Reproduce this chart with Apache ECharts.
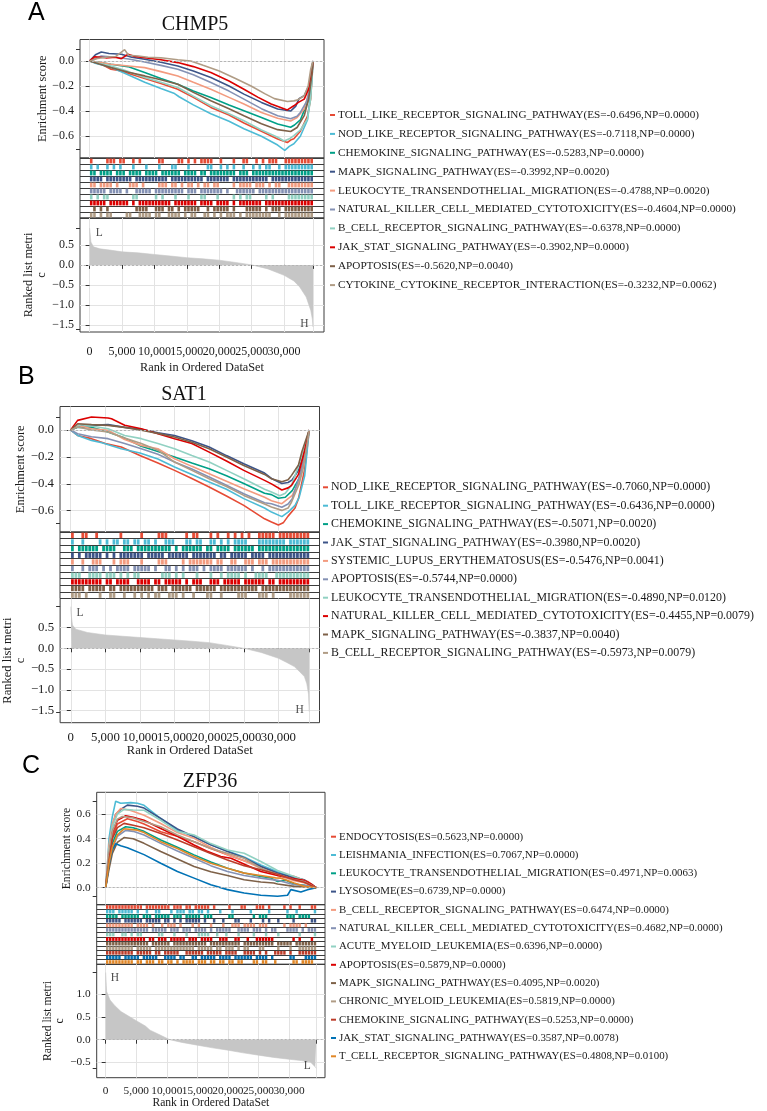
<!DOCTYPE html>
<html><head><meta charset="utf-8">
<script src="https://cdn.jsdelivr.net/npm/echarts@6/dist/echarts.min.js"></script>
<style>html,body{margin:0;padding:0;background:#fff}#c{width:767px;height:1111px}</style>
</head><body><div id="c"></div>
<script>
// ---------------- DATA ----------------
const N_GENES = 34450;        // length of ranked list
const BIN = 500;              // each character of a hit string covers 500 ranks
const xTicks = [0,5000,10000,15000,20000,25000,30000];

const colorsNPG = ['#E64B35','#4DBBD5','#00A087','#3C5488','#F39B7F','#8491B4','#91D1C2','#DC0000','#7E6148','#B09C85'];
const colorsExtra = ['#BC3C29','#0072B5','#E18727'];

// ----- Panel A : CHMP5 -----
const geneA = 'CHMP5';
const namesA = ['TOLL_LIKE_RECEPTOR_SIGNALING_PATHWAY','NOD_LIKE_RECEPTOR_SIGNALING_PATHWAY','CHEMOKINE_SIGNALING_PATHWAY','MAPK_SIGNALING_PATHWAY','LEUKOCYTE_TRANSENDOTHELIAL_MIGRATION','NATURAL_KILLER_CELL_MEDIATED_CYTOTOXICITY','B_CELL_RECEPTOR_SIGNALING_PATHWAY','JAK_STAT_SIGNALING_PATHWAY','APOPTOSIS','CYTOKINE_CYTOKINE_RECEPTOR_INTERACTION'];
const esA = [-0.6496,-0.7118,-0.5283,-0.3992,-0.4788,-0.4604,-0.6378,-0.3902,-0.5620,-0.3232];
const npA = [0,0,0,0.002,0.002,0,0,0,0.004,0.0062];
const curvesA = [
 [[0,0],[800,-0.013],[2000,-0.03],[3300,-0.066],[4500,-0.075],[5900,-0.098],[8500,-0.14],[11000,-0.18],[13600,-0.225],[16000,-0.29],[18700,-0.37],[21500,-0.43],[23800,-0.494],[26500,-0.56],[29000,-0.621],[30500,-0.6496],[31000,-0.63],[31500,-0.62],[32500,-0.56],[33600,-0.44],[34100,-0.3],[34450,0]],
 [[0,0],[1000,-0.02],[3300,-0.05],[5500,-0.1],[8500,-0.17],[11000,-0.22],[13100,-0.26],[13800,-0.285],[16000,-0.35],[18700,-0.42],[21500,-0.48],[23800,-0.54],[26500,-0.6],[29000,-0.67],[30100,-0.7118],[30800,-0.68],[31500,-0.66],[32500,-0.6],[33600,-0.47],[34000,-0.3],[34300,-0.15],[34450,0]],
 [[0,0],[1500,-0.01],[3300,-0.026],[5900,-0.045],[8500,-0.092],[11000,-0.14],[13600,-0.185],[16000,-0.24],[18700,-0.291],[21500,-0.35],[23800,-0.396],[26500,-0.45],[29000,-0.502],[31000,-0.5283],[31600,-0.51],[32500,-0.47],[33600,-0.33],[34200,-0.12],[34450,0]],
 [[0,0],[900,0.05],[1800,0.071],[3000,0.06],[4900,0.053],[6500,0.03],[8500,0.013],[11000,-0.01],[13600,-0.04],[16000,-0.08],[18700,-0.132],[21500,-0.2],[23800,-0.264],[26500,-0.33],[29000,-0.383],[31000,-0.3992],[31800,-0.36],[32300,-0.3],[33100,-0.277],[33800,-0.2],[34450,0]],
 [[0,0],[1500,-0.01],[3300,-0.026],[6000,-0.04],[8500,-0.053],[11000,-0.085],[13600,-0.119],[16000,-0.17],[18700,-0.225],[21500,-0.29],[23800,-0.343],[26500,-0.41],[29000,-0.457],[31000,-0.4788],[32000,-0.45],[33100,-0.383],[33800,-0.25],[34300,-0.066],[34450,0]],
 [[0,0],[1800,0.04],[4000,0.03],[6000,0.015],[8500,-0.008],[11000,-0.035],[13600,-0.066],[16000,-0.11],[18700,-0.172],[21500,-0.24],[23800,-0.304],[26500,-0.38],[29000,-0.436],[31000,-0.4604],[32000,-0.44],[32500,-0.41],[33500,-0.32],[34100,-0.198],[34450,0]],
 [[0,0],[1500,-0.02],[3300,-0.04],[6000,-0.085],[8500,-0.132],[11000,-0.17],[13600,-0.211],[16000,-0.28],[18700,-0.357],[21500,-0.42],[23800,-0.476],[26500,-0.55],[29000,-0.608],[30000,-0.6378],[30800,-0.62],[31500,-0.594],[32500,-0.55],[33600,-0.462],[34100,-0.3],[34450,0]],
 [[0,0],[800,0.034],[2500,0.025],[4000,0.03],[4900,0.018],[5900,0.053],[7000,0.035],[8500,0.026],[11000,0.01],[13600,-0.013],[16000,-0.045],[18700,-0.092],[21500,-0.16],[23800,-0.225],[26000,-0.29],[28000,-0.343],[30500,-0.3902],[31500,-0.357],[32200,-0.33],[33100,-0.304],[33800,-0.22],[34300,-0.092],[34450,0]],
 [[0,0],[1500,-0.025],[3300,-0.053],[6000,-0.09],[8500,-0.119],[11000,-0.15],[13600,-0.185],[16000,-0.25],[18700,-0.317],[21500,-0.38],[23800,-0.436],[26500,-0.5],[29000,-0.547],[31000,-0.562],[32000,-0.53],[33100,-0.436],[33800,-0.3],[34300,-0.1],[34450,0]],
 [[0,0],[1200,0.02],[2500,0.03],[4000,0.035],[5400,0.09],[6000,0.045],[7500,0.04],[9000,0.03],[11000,0.025],[13600,0.01],[15600,0],[17500,-0.035],[20000,-0.08],[22500,-0.14],[24900,-0.2],[27000,-0.26],[28500,-0.3],[30500,-0.3232],[31500,-0.318],[32000,-0.312],[33100,-0.277],[33700,-0.2],[34100,-0.066],[34450,0]]
];
const hitsA = [
 '#....###.# #..#.#.... .##....##. #.#.####.. #...#..##. .#.#.###.. #########',
 '#.#..#.#.# ...#...#.. .#...##... #.....##.. #.#.#..#.. #.#.##..#. #########',
 '##.####.## #.####.### #.######.# ###.##.### #####.###. ########## #########',
 '####.##### ###.###### ####.##### #####.#### ###.###### #####.#### #########',
 '##.####.#. ..###.#... .###.##.#. ##.#.##.## ....#.#### .###.#.##. .########',
 '#####.#### .#..#####. #########. ###.###### #.#..##### #.######## #########',
 '#.#.##.... ...##..... #.#...#... #...##...# ....#.#.## ....#.#... .########',
 '#####.#### ##.#.##### #####.#### ###.####.# ###.#.#### ###.###### #########',
 '.#.#.#.... ....####.. ###.##.#.# ####..#.## ###.#...## ###.#.###. #########',
 '##.#.##... .##..####. ##..####.# .##..##.#. #.###.#.## ######..#. #########'
];
const rankedA = [[0,0.92],[100,0.75],[200,0.57],[600,0.45],[1600,0.40],[3100,0.37],[5000,0.325],[7500,0.30],[10000,0.26],[12500,0.22],[15000,0.18],[17500,0.15],[20000,0.117],[22500,0.06],[25000,0],[27500,-0.1],[30000,-0.26],[31500,-0.4],[32400,-0.55],[33400,-0.8],[34100,-1.13],[34350,-1.35],[34450,-1.55]];
const esTicksA = [0,-0.2,-0.4,-0.6];
const esEndsA = [0.096,-0.704];
const rkTicksA = [0.5,0,-0.5,-1,-1.5];
const rkEndsA = [0.92,-1.61];
const markTextA = ['L','H'];
const markRankA = [1480,33130];
const markValA = [0.785,-1.465];

// ----- Panel B : SAT1 -----
const geneB = 'SAT1';
const namesB = ['NOD_LIKE_RECEPTOR_SIGNALING_PATHWAY','TOLL_LIKE_RECEPTOR_SIGNALING_PATHWAY','CHEMOKINE_SIGNALING_PATHWAY','JAK_STAT_SIGNALING_PATHWAY','SYSTEMIC_LUPUS_ERYTHEMATOSUS','APOPTOSIS','LEUKOCYTE_TRANSENDOTHELIAL_MIGRATION','NATURAL_KILLER_CELL_MEDIATED_CYTOTOXICITY','MAPK_SIGNALING_PATHWAY','B_CELL_RECEPTOR_SIGNALING_PATHWAY'];
const esB = [-0.7060,-0.6436,-0.5071,-0.3980,-0.5476,-0.5744,-0.4890,-0.4455,-0.3837,-0.5973];
const npB = [0,0,0.002,0.002,0.0041,0,0.012,0.0079,0.004,0.0079];
const curvesB = [
 [[0,0],[1000,-0.04],[3000,-0.064],[5000,-0.1],[7300,-0.126],[10000,-0.19],[12600,-0.245],[15000,-0.3],[17500,-0.36],[20000,-0.424],[22500,-0.49],[25000,-0.56],[28000,-0.66],[29000,-0.684],[30000,-0.706],[30700,-0.69],[31400,-0.64],[32400,-0.58],[32900,-0.51],[33800,-0.29],[34450,0]],
 [[0,0],[1000,-0.04],[3000,-0.077],[4500,-0.095],[7300,-0.139],[10000,-0.17],[12600,-0.215],[15000,-0.275],[17500,-0.33],[20000,-0.387],[22500,-0.44],[25000,-0.51],[28000,-0.58],[29000,-0.61],[30500,-0.6436],[31400,-0.61],[32400,-0.56],[33000,-0.5],[33800,-0.34],[34450,0]],
 [[0,0],[1000,0.02],[3000,0.02],[5400,-0.015],[7800,-0.06],[10200,-0.12],[12600,-0.16],[15000,-0.2],[17500,-0.245],[20000,-0.287],[22500,-0.34],[25000,-0.398],[28000,-0.47],[29000,-0.48],[30000,-0.5071],[31000,-0.5],[32000,-0.45],[33000,-0.36],[33800,-0.2],[34450,0]],
 [[0,0],[1500,0.035],[3000,0.035],[5400,0.04],[7800,0.02],[10200,0.005],[12600,-0.02],[15000,-0.04],[17500,-0.08],[20000,-0.126],[22500,-0.19],[25000,-0.25],[28000,-0.32],[29000,-0.36],[30500,-0.398],[31400,-0.39],[32000,-0.37],[32900,-0.3],[33800,-0.15],[34450,0]],
 [[0,0],[1000,0.035],[3000,0.01],[5400,-0.002],[7800,-0.07],[10200,-0.114],[12600,-0.139],[15000,-0.213],[17500,-0.27],[20000,-0.325],[22500,-0.38],[25000,-0.436],[28000,-0.5],[29000,-0.525],[30500,-0.5476],[31400,-0.51],[32000,-0.486],[33000,-0.38],[33800,-0.2],[34450,0]],
 [[0,0],[1000,-0.027],[3000,-0.05],[5400,-0.064],[7800,-0.1],[10200,-0.139],[12600,-0.18],[15000,-0.238],[17500,-0.29],[20000,-0.349],[22500,-0.41],[25000,-0.473],[28000,-0.54],[29000,-0.548],[30500,-0.5744],[31400,-0.55],[32000,-0.51],[33300,-0.3],[34000,-0.15],[34450,0]],
 [[0,0],[1500,0.04],[3000,0.03],[5400,0.01],[7800,-0.04],[10200,-0.064],[12600,-0.1],[15000,-0.139],[17500,-0.19],[20000,-0.238],[22500,-0.3],[25000,-0.362],[28000,-0.44],[29000,-0.461],[30200,-0.489],[31000,-0.47],[31900,-0.41],[33300,-0.21],[34450,0]],
 [[0,0],[1000,0.072],[3000,0.097],[5400,0.09],[5900,0.084],[7800,0.035],[10200,0.01],[12600,-0.027],[15000,-0.064],[17500,-0.1],[20000,-0.164],[22500,-0.23],[25000,-0.3],[28000,-0.374],[29000,-0.4],[30500,-0.4455],[31400,-0.43],[31900,-0.411],[32900,-0.33],[33800,-0.15],[34450,0]],
 [[0,0],[1000,0.047],[3000,0.04],[5400,0.035],[7800,0.02],[10200,-0.002],[12600,-0.025],[15000,-0.052],[17500,-0.09],[20000,-0.139],[22500,-0.2],[25000,-0.263],[28000,-0.33],[29000,-0.362],[30500,-0.3837],[31400,-0.37],[31900,-0.337],[32900,-0.26],[33400,-0.16],[34450,0]],
 [[0,0],[1000,0.022],[3000,0],[5400,-0.015],[7800,-0.06],[10200,-0.1],[12600,-0.15],[15000,-0.238],[17500,-0.3],[20000,-0.362],[22500,-0.42],[25000,-0.486],[28000,-0.55],[29000,-0.572],[30500,-0.5973],[31400,-0.58],[31900,-0.535],[33000,-0.4],[33600,-0.28],[34450,0]]
];
const hitsB = [
 '#..##..#.. ....#..... #....###.. ...#.##... #.#..#.#.# .#..#####. #########',
 '#..#....#. #.##.##.## .##.#..### ...##.##.. ##.#.#.### #...###### ##.######',
 '#.######.# ###..###.# #########. #.######.# #.####.### ###.###### #########',
 '#.#.#####. #.#.###### #.#####.## ####.##### ##.##.#### #.####.### #########',
 '#..#..###. ..#.###... #....###.. ..#.###### #.##..##.. ###.###.## #########',
 '#..#.###.# .#.####.## ###.#..##. #.#.###.#. ####.##### #.#..#.### #########',
 '###..####. ###.#.#.## ......###. #.#...#... #..#.####. #..####..# #########',
 '#########. ##.####..# ###.##.### ##.#.###.. ###.#####. ######.##. #########',
 '####.##### .##.###### ####.###.# #####.#### ##.####### ####.##### #########',
 '###.#...#. .##..#..#. #.#.##..## #.#..#...# #..#....## #...###.#. ...######'
];
const rankedB = [[0,1.0],[100,0.75],[240,0.56],[720,0.46],[2400,0.38],[5000,0.32],[7500,0.29],[10000,0.26],[12500,0.23],[15000,0.2],[17500,0.17],[20000,0.136],[22500,0.07],[25000,0],[27500,-0.1],[30000,-0.24],[31200,-0.34],[32300,-0.44],[33000,-0.55],[33750,-0.68],[34100,-0.85],[34350,-1.1],[34450,-1.52]];
const esTicksB = [0,-0.2,-0.4,-0.6];
const esEndsB = [0.094,-0.694];
const rkTicksB = [0.5,0,-0.5,-1,-1.5];
const rkEndsB = [1.0,-1.54];
const markTextB = ['L','H'];
const markRankB = [1350,33080];
const markValB = [0.84,-1.483];

// ----- Panel C : ZFP36 -----
const geneC = 'ZFP36';
const namesC = ['ENDOCYTOSIS','LEISHMANIA_INFECTION','LEUKOCYTE_TRANSENDOTHELIAL_MIGRATION','LYSOSOME','B_CELL_RECEPTOR_SIGNALING_PATHWAY','NATURAL_KILLER_CELL_MEDIATED_CYTOTOXICITY','ACUTE_MYELOID_LEUKEMIA','APOPTOSIS','MAPK_SIGNALING_PATHWAY','CHRONIC_MYELOID_LEUKEMIA','CHEMOKINE_SIGNALING_PATHWAY','JAK_STAT_SIGNALING_PATHWAY','T_CELL_RECEPTOR_SIGNALING_PATHWAY'];
const esC = [0.5623,0.7067,0.4971,0.6739,0.6474,0.4682,0.6396,0.5879,0.4095,0.5819,0.5253,0.3587,0.4808];
const npC = [0,0,0.0063,0,0,0,0,0,0.002,0,0,0.0078,0.01];
const curvesC = [
 [[0,0],[546,0.25],[1092,0.42],[1911,0.52],[3549,0.5623],[5187,0.54],[6279,0.52],[9009,0.457],[11739,0.42],[14469,0.376],[17199,0.32],[19929,0.268],[22659,0.22],[25389,0.173],[28119,0.12],[30849,0.092],[33033,0.051],[34450,0]],
 [[0,0],[300,0.2],[546,0.4],[1092,0.58],[1638,0.7067],[2457,0.69],[4095,0.695],[5200,0.69],[6279,0.673],[9009,0.565],[11739,0.47],[14469,0.416],[17199,0.35],[19929,0.3],[22659,0.25],[25389,0.186],[28119,0.13],[30849,0.078],[32487,0.05],[33600,0.03],[34450,0]],
 [[0,0],[546,0.2],[1092,0.36],[1911,0.46],[3276,0.4971],[4500,0.49],[6279,0.46],[9009,0.389],[11739,0.33],[14469,0.268],[17199,0.21],[19929,0.159],[22659,0.12],[25389,0.092],[27000,0.08],[28119,0.051],[29500,0.06],[30849,0.03],[32487,0.02],[34450,0]],
 [[0,0],[546,0.3],[1092,0.5],[1638,0.6],[2457,0.64],[3549,0.6739],[5187,0.665],[6279,0.65],[9009,0.565],[11739,0.48],[14469,0.416],[17199,0.35],[19929,0.295],[22659,0.245],[25389,0.173],[28119,0.12],[30849,0.08],[32487,0.065],[33033,0.043],[34450,0]],
 [[0,0],[546,0.35],[1092,0.52],[1638,0.6],[2457,0.6474],[4095,0.63],[6279,0.592],[9009,0.524],[11739,0.45],[14469,0.403],[17199,0.33],[19929,0.268],[22659,0.22],[25389,0.159],[28119,0.1],[30849,0.057],[32487,0.04],[34450,0]],
 [[0,0],[546,0.18],[1092,0.32],[1911,0.42],[3276,0.4682],[4500,0.46],[6279,0.43],[9009,0.362],[11739,0.3],[14469,0.241],[17199,0.18],[19929,0.132],[22659,0.1],[25389,0.078],[28119,0.06],[30849,0.024],[32487,0.02],[34450,0]],
 [[0,0],[546,0.3],[1092,0.5],[1911,0.6],[3003,0.6396],[4500,0.635],[6279,0.632],[9009,0.551],[11739,0.46],[14469,0.43],[17199,0.36],[19929,0.308],[22659,0.281],[25389,0.214],[28119,0.14],[30849,0.092],[32487,0.06],[34450,0]],
 [[0,0],[546,0.25],[1092,0.45],[1911,0.55],[3276,0.5879],[4500,0.575],[6279,0.551],[9009,0.484],[11739,0.42],[14469,0.349],[16500,0.3],[18837,0.254],[20500,0.24],[25389,0.132],[28119,0.1],[30849,0.073],[32487,0.06],[33600,0.03],[34450,0]],
 [[0,0],[546,0.15],[1092,0.28],[1911,0.37],[3003,0.4095],[4500,0.4],[6279,0.362],[9009,0.295],[11739,0.235],[14469,0.173],[17199,0.13],[19929,0.1],[22659,0.065],[25389,0.046],[27500,0.038],[28119,0.03],[30849,0.011],[32487,0.005],[34450,0]],
 [[0,0],[546,0.28],[1092,0.46],[1911,0.56],[2730,0.5819],[4500,0.57],[6279,0.54],[9009,0.497],[11739,0.43],[14469,0.376],[17199,0.32],[19929,0.281],[22659,0.24],[25389,0.159],[28119,0.11],[30849,0.065],[32487,0.05],[34450,0]],
 [[0,0],[546,0.22],[1092,0.4],[1911,0.49],[3003,0.5253],[4500,0.51],[6279,0.49],[9009,0.443],[11739,0.39],[14469,0.335],[17199,0.28],[19929,0.227],[22659,0.18],[25389,0.146],[28119,0.11],[30849,0.065],[32487,0.045],[34450,0]],
 [[0,0],[546,0.19],[1092,0.31],[1638,0.3587],[2457,0.343],[3549,0.327],[6279,0.27],[9009,0.2],[11739,0.132],[14469,0.078],[17199,0.024],[19929,-0.016],[22659,-0.043],[25389,-0.062],[28119,-0.07],[29757,-0.062],[30303,-0.016],[31941,-0.035],[33033,-0.016],[34450,0]],
 [[0,0],[546,0.2],[1092,0.33],[1911,0.43],[3003,0.4808],[5187,0.47],[6279,0.45],[9009,0.376],[11739,0.32],[14469,0.254],[17199,0.2],[19929,0.159],[22659,0.119],[25389,0.1],[27800,0.08],[28665,0.078],[30849,0.038],[32487,0.011],[34450,0]]
];
const hitsC = [
 '########## ##.####### #.###.##.# ####.#.... #...##...# ##.#....#. #..#...##',
 '###.#####. #..#..##.. .#.###.##. ##.#...#.. .#.....#.. ...#.....# ..#.....#',
 '####.##### #.###.#### #.###.#### #.###..... ##......#. ###......# ##.####..',
 '#####.#### ##.#####.# #.#.#.#### #.#..#..#. ..##...#.. .#.#..#... .#.....##',
 '#########. ####.#..#. ###.#...#. #...#...#. .###.####. ###.....#. ####.#...',
 '########## ####.##### .###.###.# ###.#.#### #..####.## #.#.##...# ###.#.###',
 '###..##.#. ##.....##. ..#...#... ####..#..# ...#....#. ..#...#... ...#....#',
 '########## ###.##.### .#####.### .####..### ..##..#..# #####..... .#.#...#.',
 '########## ####.##### #.######## ###.###### ####.##### #####.#### #.#######',
 '#########. #####.#### #########. #####.##.# ##.#.##... ##....#... #..######',
 '#########. #####.##.# ####..#### ##.#####.# ###..####. #.#..####. #..######',
 '#####.#### #.#####..# ###.##..## .#####.### #.######.# ###.#..... ##...####',
 '#########. ##.###.##. ##.#.####. ###.##.##. ##.##...## .##..#.... .##.####.'
];
const rankedC = [[0,1.48],[100,1.2],[160,1.06],[330,1.0],[710,0.875],[1500,0.75],[2500,0.62],[4000,0.5],[5000,0.42],[6500,0.3],[7260,0.21],[8500,0.13],[10500,0],[12500,-0.06],[15000,-0.12],[17500,-0.18],[20000,-0.23],[22500,-0.29],[25000,-0.34],[27500,-0.39],[30000,-0.43],[32000,-0.46],[33500,-0.49],[34300,-0.6],[34450,-0.63]];
const esTicksC = [0.6,0.4,0.2,0];
const esEndsC = [0.703,-0.073];
const rkTicksC = [1,0.5,0,-0.5];
const rkEndsC = [1.49,-0.63];
const markTextC = ['H','L'];
const markRankC = [1527,32990];
const markValC = [1.352,-0.579];

// ---------------- LAYOUT ----------------
const SERIF = 'Liberation Serif';
const TXT = '#1a1a1a';
const panels = [
 {letter:'A', gene:geneA, names:namesA, es:esA, np:npA, curves:curvesA, hits:hitsA, ranked:rankedA,
  esTicks:esTicksA, esEnds:esEndsA, rkTicks:rkTicksA, rkEnds:rkEndsA, mt:markTextA, mr:markRankA, mv:markValA,
  colors: colorsNPG,
  L:{left:80,width:244,esTop:39.5,esH:118.5,hitTop:158,hitH:60,rankTop:218,rankH:114,
     xMin:-1480,xMax:36150,esMin:-0.773,esMax:0.171,rkMin:-1.675,rkMax:1.17,
     tick:12, name:12.3, esGap:30, rkGap:30, xMargin:14, xNameGap:30,
     legLeft:330, legTop:108, legFont:11.2, legGap:4.9,
     letterX:28, letterY:13.5, geneX:195, geneY:25}},
 {letter:'B', gene:geneB, names:namesB, es:esB, np:npB, curves:curvesB, hits:hitsB, ranked:rankedB,
  esTicks:esTicksB, esEnds:esEndsB, rkTicks:rkTicksB, rkEnds:rkEndsB, mt:markTextB, mr:markRankB, mv:markValB,
  colors: colorsNPG,
  L:{left:60,width:259.5,esTop:406.5,esH:125.5,hitTop:532,hitH:66.5,rankTop:598.5,rankH:124.2,
     xMin:-1543,xMax:35937,esMin:-0.758,esMax:0.175,rkMin:-1.788,rkMax:1.197,
     tick:12.8, name:12.5, esGap:33, rkGap:33, xMargin:8, xNameGap:21,
     legLeft:323, legTop:480.3, legFont:11.9, legGap:4.4,
     letterX:18, letterY:377.5, geneX:184, geneY:395}},
 {letter:'C', gene:geneC, names:namesC, es:esC, np:npC, curves:curvesC, hits:hitsC, ranked:rankedC,
  esTicks:esTicksC, esEnds:esEndsC, rkTicks:rkTicksC, rkEnds:rkEndsC, mt:markTextC, mr:markRankC, mv:markValC,
  colors: colorsNPG.concat(colorsExtra),
  L:{left:96.7,width:228.3,esTop:792.3,esH:112.4,hitTop:904.7,hitH:59.6,rankTop:964.3,rankH:113.4,
     xMin:-1468,xMax:35890,esMin:-0.139,esMax:0.779,rkMin:-0.837,rkMax:1.661,
     tick:11.3, name:11.6, esGap:23, rkGap:28, xMargin:7.5, xNameGap:19,
     legLeft:331, legTop:829.7, legFont:10.9, legGap:4.3,
     letterX:22, letterY:766.5, geneX:210, geneY:781.5}}
];

// ---------------- BUILD ----------------
function fmt1(v){ const s=(Math.abs(v)<1e-9?0:v).toFixed(1); return s.replace('-','\u2212'); }
function fmtK(v){ return xTicks.indexOf(Math.round(v))>=0 ? Math.round(v).toLocaleString('en-US') : ''; }
function hitItems(rows){
  const out=[];
  rows.forEach((s,r)=>{ const t=s.replace(/ /g,''); for(let i=0;i<t.length;i++){ if(t[i]==='#') out.push([i*BIN+BIN*0.1,(i+1)*BIN-BIN*0.1,r]); } });
  return out;
}
const grid=[], xAxis=[], yAxis=[], series=[], legend=[], graphic=[];
const gridLine = {show:true, lineStyle:{color:'#e3e3e3', width:1}};
const tickStyle = {color:'#333', width:1};

panels.forEach(p=>{
  const L=p.L;
  const labels = p.names.map((n,i)=>`${n}(ES=${p.es[i].toFixed(4)},NP=${p.np[i].toFixed(4)})`);
  const g0=grid.length;
  const frame={show:true, borderColor:'#3c3c3c', borderWidth:1, backgroundColor:'transparent'};
  grid.push(Object.assign({left:L.left, top:L.esTop, width:L.width, height:L.esH}, frame));
  grid.push(Object.assign({left:L.left, top:L.hitTop, width:L.width, height:L.hitH}, frame));
  grid.push(Object.assign({left:L.left, top:L.rankTop, width:L.width, height:L.rankH}, frame));

  const x0=xAxis.length;
  xAxis.push({gridIndex:g0, type:'value', min:L.xMin, max:L.xMax, axisLine:{show:false},
    axisTick:{show:false, customValues:xTicks}, axisLabel:{show:false}, splitLine:gridLine});
  xAxis.push({gridIndex:g0+1, type:'value', min:L.xMin, max:L.xMax, show:false, splitLine:{show:false}});
  xAxis.push({gridIndex:g0+2, type:'value', min:L.xMin, max:L.xMax, axisLine:{show:false},
    axisTick:{show:true, length:4, customValues:xTicks.concat([N_GENES]), lineStyle:tickStyle},
    axisLabel:{customValues:xTicks.concat([N_GENES]), formatter:fmtK, margin:L.xMargin, fontFamily:SERIF, fontSize:L.tick, color:TXT,
      showMinLabel:true, hideOverlap:false},
    splitLine:gridLine,
    name:'Rank in Ordered DataSet', nameLocation:'middle', nameGap:L.xNameGap,
    nameTextStyle:{fontFamily:SERIF, fontSize:L.name, color:TXT}});

  const y0=yAxis.length;
  const nameStyle={fontFamily:SERIF, fontSize:L.name, color:TXT};
  yAxis.push({gridIndex:g0, type:'value', min:L.esMin, max:L.esMax, axisLine:{show:false},
    axisTick:{show:true, length:4, customValues:p.esTicks, lineStyle:tickStyle},
    axisLabel:{customValues:p.esTicks, formatter:fmt1, margin:6, fontFamily:SERIF, fontSize:L.tick, color:TXT, showMinLabel:true, showMaxLabel:true},
    splitLine:gridLine, name:'Enrichment score', nameLocation:'middle', nameGap:L.esGap, nameRotate:90, nameTextStyle:nameStyle});
  yAxis.push({gridIndex:g0, type:'value', min:L.esMin, max:L.esMax, position:'left', axisLine:{show:false},
    axisTick:{show:true, length:4, customValues:p.esEnds, lineStyle:tickStyle}, axisLabel:{show:false}, splitLine:{show:false}});
  yAxis.push({gridIndex:g0+1, type:'category', inverse:true, data:p.names.map((_,i)=>String(i)),
    axisLine:{show:false}, axisTick:{show:false}, axisLabel:{show:false},
    splitLine:{show:true, interval:0, lineStyle:{color:'#3c3c3c', width:1}}});
  yAxis.push({gridIndex:g0+2, type:'value', min:L.rkMin, max:L.rkMax, axisLine:{show:false},
    axisTick:{show:true, length:4, customValues:p.rkTicks, lineStyle:tickStyle},
    axisLabel:{customValues:p.rkTicks, formatter:fmt1, margin:6, fontFamily:SERIF, fontSize:L.tick, color:TXT, showMinLabel:true, showMaxLabel:true},
    splitLine:gridLine, name:'Ranked list metri\nc', nameLocation:'middle', nameGap:L.rkGap, nameRotate:90, nameTextStyle:Object.assign({lineHeight:L.name+0.5}, nameStyle)});
  yAxis.push({gridIndex:g0+2, type:'value', min:L.rkMin, max:L.rkMax, position:'left', axisLine:{show:false},
    axisTick:{show:true, length:4, customValues:p.rkEnds, lineStyle:tickStyle}, axisLabel:{show:false}, splitLine:{show:false}});

  const zeroLine = {silent:true, symbol:'none', label:{show:false}, lineStyle:{color:'#b5b5b5', type:[2,2], width:1}, data:[{yAxis:0}], animation:false};

  // ES curves
  p.curves.forEach((c,i)=>{
    series.push({type:'line', name:labels[i], xAxisIndex:x0, yAxisIndex:y0, data:c, showSymbol:false, symbol:'none',
      color:p.colors[i], lineStyle:{width:1.6, color:p.colors[i]}, z:3,
      markLine: i===0 ? zeroLine : undefined});
  });
  // hits
  const cols=p.colors;
  series.push({type:'custom', xAxisIndex:x0+1, yAxisIndex:y0+2, data:hitItems(p.hits), encode:{x:[0,1], y:2}, silent:true,
    renderItem:(params,api)=>{
      const r=api.value(2);
      const a=api.coord([api.value(0), r]);
      const b=api.coord([api.value(1), r]);
      const h=api.size([0,1])[1];
      return {type:'rect', shape:{x:a[0], y:a[1]-h*0.4, width:Math.max(b[0]-a[0],0.8), height:h*0.8}, style:{fill:cols[r]}};
    }});
  // ranked list metric
  series.push({type:'line', xAxisIndex:x0+2, yAxisIndex:y0+3, data:p.ranked, showSymbol:false, symbol:'none', silent:true,
    lineStyle:{width:0.6, color:'#c6c6c6'}, areaStyle:{color:'#c6c6c6', opacity:1}, z:2,
    markLine: zeroLine});
  // L / H annotations
  series.push({type:'scatter', xAxisIndex:x0+2, yAxisIndex:y0+3, silent:true, symbolSize:1,
    itemStyle:{color:'rgba(0,0,0,0)'},
    data:p.mt.map((t,i)=>({name:t, value:[p.mr[i], p.mv[i]]})),
    label:{show:true, position:'inside', formatter:'{b}', fontFamily:SERIF, fontSize:11.5, color:TXT}, z:4});

  legend.push({orient:'vertical', left:L.legLeft, top:L.legTop, padding:0, icon:'rect', itemWidth:5, itemHeight:2,
    itemGap:L.legGap, selectedMode:false, data:labels,
    textStyle:{fontFamily:SERIF, fontSize:L.legFont, lineHeight:14, color:TXT, padding:[0,0,0,-2]}});

  graphic.push({type:'text', x:L.letterX, y:L.letterY, style:{text:p.letter, font:'25px "Liberation Sans"', fill:'#000', align:'left', verticalAlign:'middle'}});
  graphic.push({type:'text', x:L.geneX, y:L.geneY, style:{text:p.gene, font:'20px "Liberation Serif"', fill:'#111', align:'center', verticalAlign:'middle'}});
});

const chart = echarts.init(document.getElementById('c'));
chart.setOption({animation:false, backgroundColor:'#fff', grid, xAxis, yAxis, series, legend, graphic, tooltip:{show:false}});
</script></body></html>
